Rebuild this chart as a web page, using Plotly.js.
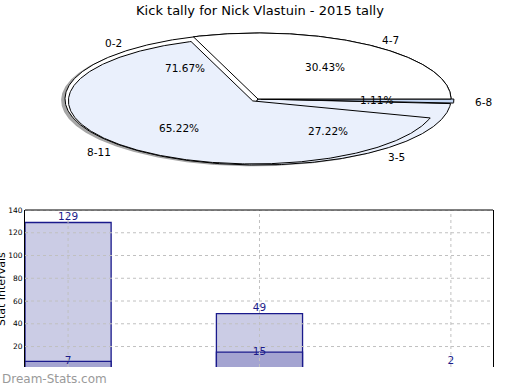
<!DOCTYPE html>
<html><head><meta charset="utf-8">
<script src="https://cdn.plot.ly/plotly-3.0.1.min.js"></script>
<style>body{margin:0;background:#fff;}</style>
</head><body><div id="chart" style="width:520px;height:390px;"></div>
<script>
// ---------- data ----------
const chartTitle = "Kick tally for Nick Vlastuin - 2015 tally";
const pie1Labels = ["0-2", "3-5", "6-8"];
const pie1Pct = [71.67, 27.22, 1.11];
const pie2Labels = ["4-7", "8-11", ""];
const pie2Pct = [30.43, 65.22, 4.35];
const barCats = [0, 1, 2];
const barTotals = [129, 49, 2];
const barInner = [7, 15, 0];
const yTicks = [20, 40, 60, 80, 100, 120, 140];
const yLabel = "Stat Intervals";
const watermark = "Dream-Stats.com";

// ---------- styles ----------
const W = 520, H = 390;
const FONT = "DejaVu Sans, sans-serif";
const pie1Colors = ["#ffffff", "#eaf0fc", "#c6d9f6"];
const pie1Explode = [0, 0, 0.015];
const pie2Colors = ["#ffffff", "#eaf0fc", null];
const pie2Explode = [0, 0.04, 0];
const pie2Radius = [1, 0.955, 1];
const shadowOff = [-0.02, -0.02];
const pieCx = 258, pieCy = 99, pieA = 193, pieB = 66, pieTop = 22, pieBot = 180;
const barLeft = 25, barRight = 493, barTopPx = 210, barBotPx = 367;
const yMin = 2, yMax = 140;
const textBlue = "#1c1c8a";

const traces = [];
const annotations = [];
const shapes = [];

function wedgePath(t1, t2, r, cx, cy) {
  const xs = [cx], ys = [cy];
  const n = Math.max(3, Math.ceil((t2 - t1) / 0.5));
  for (let i = 0; i <= n; i++) {
    const t = (t1 + (t2 - t1) * i / n) * Math.PI / 180;
    xs.push(cx + r * Math.cos(t));
    ys.push(cy + r * Math.sin(t));
  }
  xs.push(cx); ys.push(cy);
  return [xs, ys];
}
function shade(hex) {
  const v = parseInt(hex.slice(1), 16);
  const r = Math.round(((v >> 16) & 255) * 0.3), g = Math.round(((v >> 8) & 255) * 0.3), b = Math.round((v & 255) * 0.3);
  return "rgba(" + r + "," + g + "," + b + ",0.5)";
}
function addPie(pcts, labels, colors, explode, radius, withShadow, showPctIdx, labelFollowsExplode) {
  let start = 0;
  const geo = pcts.map((p, i) => {
    const t1 = start, t2 = start + p * 3.6; start = t2;
    const mid = (t1 + t2) / 2 * Math.PI / 180;
    return {t1, t2, mid, ox: explode[i] * Math.cos(mid), oy: explode[i] * Math.sin(mid)};
  });
  if (withShadow) {
    geo.forEach((g, i) => {
      const [xs, ys] = wedgePath(g.t1, g.t2, radius[i], g.ox + shadowOff[0], g.oy + shadowOff[1]);
      traces.push({type: "scatter", x: xs, y: ys, xaxis: "x2", yaxis: "y2", mode: "lines",
        fill: "toself", fillcolor: shade(colors[i]), line: {width: 0}, hoverinfo: "skip", showlegend: false});
    });
  }
  geo.forEach((g, i) => {
    if (colors[i]) {
      const [xs, ys] = wedgePath(g.t1, g.t2, radius[i], g.ox, g.oy);
      traces.push({type: "scatter", x: xs, y: ys, xaxis: "x2", yaxis: "y2", mode: "lines",
        fill: "toself", fillcolor: colors[i], line: {color: "#000", width: 1}, hoverinfo: "skip", showlegend: false});
    }
    const lox = labelFollowsExplode ? g.ox : 0, loy = labelFollowsExplode ? g.oy : 0;
    if (labels[i]) {
      const lx = lox + 1.1 * Math.cos(g.mid), ly = loy + 1.1 * Math.sin(g.mid);
      annotations.push({xref: "x2", yref: "y2", x: lx, y: ly, text: labels[i], showarrow: false,
        xanchor: lx > 0 ? "left" : "right", yanchor: "middle", font: {family: FONT, size: 10.5, color: "#000"}});
    }
    if (showPctIdx.includes(i)) {
      const px = lox + 0.6 * Math.cos(g.mid), py = loy + 0.6 * Math.sin(g.mid);
      annotations.push({xref: "x2", yref: "y2", x: px, y: py, text: pcts[i].toFixed(2) + "%", showarrow: false,
        xanchor: "center", yanchor: "middle", font: {family: FONT, size: 10.5, color: "#000"}});
    }
  });
}
addPie(pie1Pct, pie1Labels, pie1Colors, pie1Explode, [1, 1, 1], true, [0, 1, 2], true);
addPie(pie2Pct, pie2Labels, pie2Colors, pie2Explode, pie2Radius, false, [0, 1], false);

// ---------- bars ----------
// bars whose top falls at/below the visible bottom get no outline (they are cut off in the reference)
const edgeW = vals => vals.map(v => (v > yMin ? 1.3 : 0));
traces.push({type: "bar", x: barCats, y: barTotals, width: 0.45,
  marker: {color: "#cbcce5", line: {color: "#1a1a8c", width: edgeW(barTotals)}}, hoverinfo: "skip", showlegend: false});
traces.push({type: "bar", x: barCats, y: barInner, width: 0.45,
  marker: {color: "#a4a4d1", line: {color: "#1a1a8c", width: edgeW(barInner)}}, hoverinfo: "skip", showlegend: false});
traces.push({type: "scatter", mode: "text", x: barCats, y: barTotals, text: barTotals.map(String), textposition: "top center",
  cliponaxis: false, textfont: {family: FONT, size: 10.5, color: textBlue}, hoverinfo: "skip", showlegend: false});
const innerIdx = barCats.map((c, i) => i).filter(i => barInner[i] > 0);
traces.push({type: "scatter", mode: "text", x: innerIdx.map(i => barCats[i]), y: innerIdx.map(i => barInner[i]),
  text: innerIdx.map(i => String(barInner[i])), textposition: "middle center",
  cliponaxis: false, textfont: {family: FONT, size: 10.5, color: textBlue}, hoverinfo: "skip", showlegend: false});

// dotted grid drawn above bars
yTicks.forEach(v => shapes.push({type: "line", xref: "paper", yref: "y", x0: barLeft / W, x1: barRight / W, y0: v, y1: v,
  layer: "above", line: {color: "#c0c0c0", width: 1, dash: "dot"}}));
barCats.forEach(c => shapes.push({type: "line", xref: "x", yref: "paper", x0: c, x1: c, y0: 1 - barBotPx / H, y1: 1 - barTopPx / H,
  layer: "above", line: {color: "#c0c0c0", width: 1, dash: "dot"}}));
shapes.push({type: "line", xref: "paper", yref: "paper", x0: barLeft / W, x1: barRight / W, y0: 1 - barTopPx / H, y1: 1 - barTopPx / H,
  layer: "above", line: {color: "#000", width: 1}});

annotations.push({xref: "paper", yref: "paper", x: 1 / W, y: 1 - 289 / H, text: yLabel, textangle: -90, showarrow: false,
  xanchor: "center", yanchor: "middle", font: {family: FONT, size: 11, color: "#000"}});
annotations.push({xref: "paper", yref: "paper", x: 0, y: 1 - 379 / H, text: watermark, showarrow: false,
  xanchor: "left", yanchor: "middle", font: {family: FONT, size: 12, color: "#9a9a9a"}});

const layout = {
  width: W, height: H, margin: {l: 0, r: 0, t: 0, b: 0}, paper_bgcolor: "#fff", plot_bgcolor: "rgba(0,0,0,0)",
  barmode: "overlay", showlegend: false,
  title: {text: chartTitle, x: 0.5, xanchor: "center", y: 1 - 10 / H, yanchor: "middle", font: {family: FONT, size: 13, color: "#000"}},
  xaxis: {domain: [barLeft / W, barRight / W], range: [-0.225, 2.22], showgrid: false, zeroline: false, showticklabels: false,
    ticks: "", showline: false, fixedrange: true},
  yaxis: {domain: [1 - barBotPx / H, 1 - barTopPx / H], range: [yMin, yMax], tickvals: yTicks, showgrid: false, zeroline: false,
    showline: true, mirror: true, linecolor: "#000", linewidth: 1, ticks: "inside", ticklen: 3, tickcolor: "#999",
    tickfont: {family: FONT, size: 7.5, color: "#000"}, fixedrange: true},
  xaxis2: {domain: [0, 1], range: [-pieCx / pieA, (W - pieCx) / pieA], visible: false, fixedrange: true},
  yaxis2: {domain: [1 - pieBot / H, 1 - pieTop / H], range: [(pieCy - pieBot) / pieB, (pieCy - pieTop) / pieB], visible: false, fixedrange: true},
  annotations: annotations, shapes: shapes
};
Plotly.newPlot("chart", traces, layout, {displayModeBar: false, staticPlot: true});
</script></body></html>
